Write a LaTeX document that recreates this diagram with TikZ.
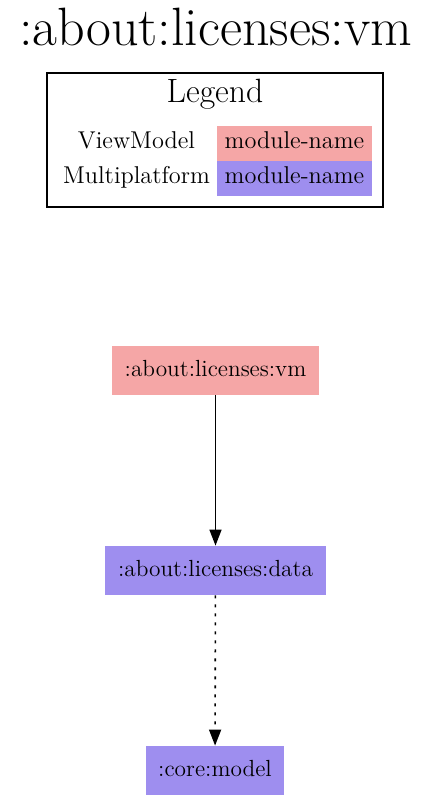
\documentclass[tikz,border=0pt]{standalone}
\usetikzlibrary{arrows.meta}
\definecolor{vmpink}{RGB}{245,166,166}
\definecolor{mpblue}{RGB}{158,142,239}
\tikzset{
  modbox/.style={inner sep=0pt, text height=7.5bp, text depth=2bp, font=\fontsize{11.7}{13}\selectfont},
  legtext/.style={inner sep=0pt, anchor=base, font=\fontsize{12.2}{14}\selectfont},
  cell/.style={inner sep=0pt, minimum width=77.5bp, minimum height=17.5bp},
  dep/.style={line width=0.8bp, -{Triangle[length=8bp,width=6bp]}},
}
\begin{document}
\begin{tikzpicture}[x=0.5bp, y=-0.5bp]
\useasboundingbox (0,0) rectangle (431,801);
% title
\node[inner sep=0pt, anchor=base, font=\fontsize{27.1}{32}\selectfont] (title) at (215.5,45) {:about:licenses:vm};
% legend
\draw[line width=0.65bp] (47,73) rectangle (383,207);
\node[inner sep=0pt, anchor=base, font=\fontsize{16.9}{20}\selectfont] (legtitle) at (215,102) {Legend};
\node[cell, fill=vmpink] (cellvm) at (294.5,143.5) {};
\node[cell, fill=mpblue] (cellmp) at (294.5,178.5) {};
\node[legtext] (lvm) at (136.5,148) {ViewModel};
\node[legtext] (lmp) at (136.5,183) {Multiplatform};
\node[legtext] (nvm) at (294.5,148) {module-name};
\node[legtext] (nmp) at (294.5,183) {module-name};
% modules
\node[modbox, fill=vmpink, minimum width=103.5bp, minimum height=24.5bp] (vm) at (215.5,370.5) {:about:licenses:vm};
\node[modbox, fill=mpblue, minimum width=110.5bp, minimum height=24.5bp] (data) at (215.5,570.5) {:about:licenses:data};
\node[modbox, fill=mpblue, minimum width=69bp, minimum height=24.5bp] (core) at (215,770.5) {:core:model};
% edges
\draw[dep] (vm) -- (data);
\draw[dep, dash pattern=on 1.5bp off 3bp] (data) -- (core);
\end{tikzpicture}
\end{document}
